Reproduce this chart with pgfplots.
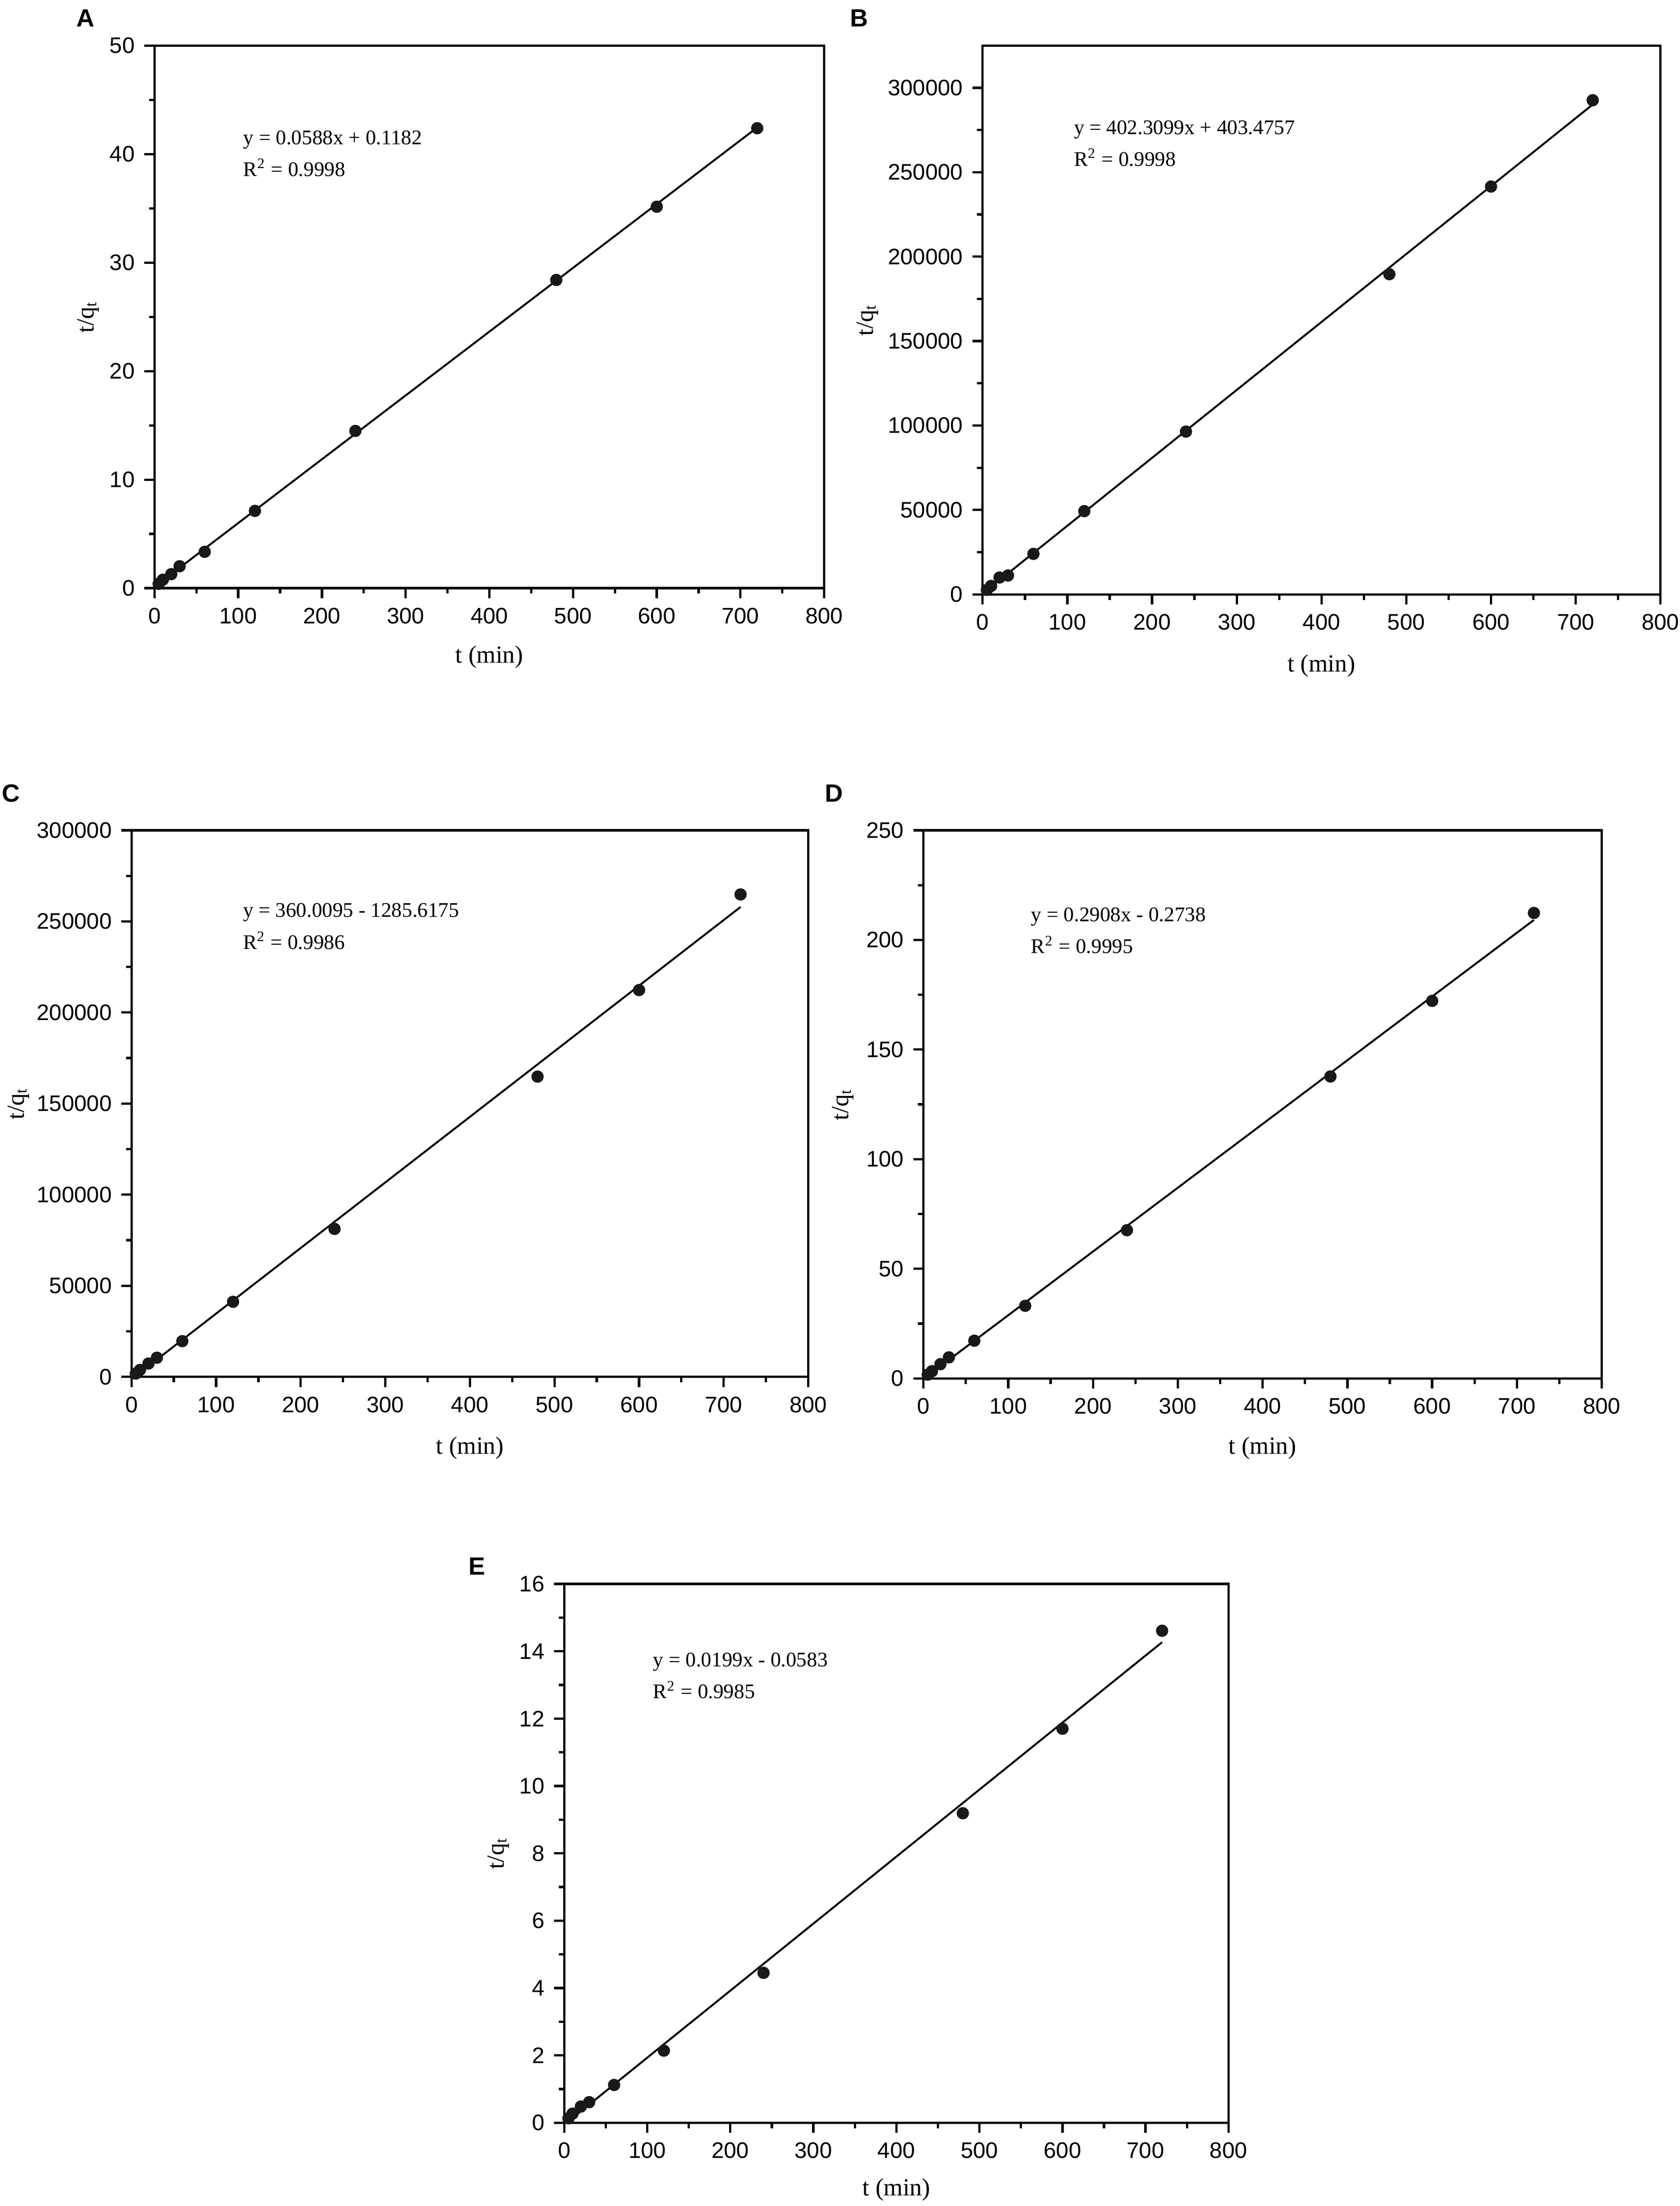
\documentclass[border=0pt]{standalone}
\usepackage{fontspec}
\setmainfont{Liberation Serif}
\newfontfamily\arial{Liberation Sans}
\usepackage{pgfplots}
\pgfplotsset{compat=1.18}

\newcommand\tickfont{\arial\fontsize{8.2}{9.5}\selectfont}
\newcommand\labfont{\fontsize{9}{10.5}\selectfont}
\newcommand\eqfont{\fontsize{7.6}{9}\selectfont}
\newcommand\letfont{\arial\bfseries\fontsize{9.1}{10.5}\selectfont}

\pgfplotsset{
  panel/.style={
    scale only axis, anchor=south west,
    xmin=0, xmax=800, ymin=0,
    xtick={0,100,...,800},
    minor x tick num=1, minor y tick num=1,
    tick align=outside, xtick pos=bottom, ytick pos=left,
    major tick length=0.13cm, minor tick length=0.07cm,
    axis line style={line width=0.85pt},
    every tick/.style={black, line width=0.85pt},
    ticklabel style={font=\tickfont},
    /pgf/number format/assume math mode=true,
    scaled ticks=false,
    yticklabel style={/pgf/number format/fixed, /pgf/number format/1000 sep={}},
    xlabel={t (min)}, ylabel={t/q\textsubscript{t}},
    label style={font=\labfont},
    clip=false,
  },
  pts/.style={only marks, mark=*, mark size=2.05pt, black!90},
  fit/.style={black, line width=0.7pt, mark=none},
}

\begin{document}
\begin{tikzpicture}
\path[use as bounding box] (0,0) rectangle (21.585,28.335);

% panel letters
\node[font=\letfont] at (1.10,28.10) {A};
\node[font=\letfont] at (11.04,28.10) {B};
\node[font=\letfont] at (0.14,18.145) {C};
\node[font=\letfont] at (10.715,18.145) {D};
\node[font=\letfont] at (6.125,8.215) {E};

% A
\begin{axis}[panel, at={(1.985cm,20.78cm)}, width=8.605cm, height=6.97cm,
  ymax=50, ytick={0,10,...,50},
  xlabel style={at={(axis description cs:0.5,-0.127)}, anchor=center},
  ylabel style={at={(axis description cs:-0.099,0.5)}, anchor=center}]
  \addplot[fit] coordinates {(0,0.1182) (720,42.45)};
  \addplot[pts] coordinates {
    (5,0.40) (10,0.78) (20,1.29) (30,2.02) (60,3.35)
    (120,7.12) (240,14.49) (480,28.40) (600,35.15) (720,42.38)
  };
  \node[anchor=west, font=\eqfont, inner sep=0pt] at (rel axis cs:0.132,0.826) {y = 0.0588x + 0.1182};
  \node[anchor=west, font=\eqfont, inner sep=0pt] at (rel axis cs:0.132,0.775) {R\textsuperscript{2} = 0.9998};
\end{axis}

% B
\begin{axis}[panel, at={(12.625cm,20.70cm)}, width=8.71cm, height=7.05cm,
  ymax=325000, ytick={0,50000,...,300000},
  xlabel style={at={(axis description cs:0.5,-0.130)}, anchor=center},
  ylabel style={at={(axis description cs:-0.170,0.5)}, anchor=center}]
  \addplot[fit] coordinates {(0,403) (720,290066)};
  \addplot[pts] coordinates {
    (5,2700) (10,5000) (20,10000) (30,11200) (60,24000)
    (120,49300) (240,96400) (480,189600) (600,241500) (720,292600)
  };
  \node[anchor=west, font=\eqfont, inner sep=0pt] at (rel axis cs:0.134,0.847) {y = 402.3099x + 403.4757};
  \node[anchor=west, font=\eqfont, inner sep=0pt] at (rel axis cs:0.134,0.796) {R\textsuperscript{2} = 0.9998};
\end{axis}

% C
\begin{axis}[panel, at={(1.69cm,10.65cm)}, width=8.695cm, height=7.02cm,
  ymax=300000, ytick={0,50000,...,300000},
  xlabel style={at={(axis description cs:0.5,-0.130)}, anchor=center},
  ylabel style={at={(axis description cs:-0.167,0.5)}, anchor=center}]
  \addplot[fit] coordinates {(4,155) (720,257921)};
  \addplot[pts] coordinates {
    (5,1800) (10,3800) (20,7300) (30,10500) (60,19600)
    (120,41200) (240,81200) (480,164800) (600,212300) (720,264800)
  };
  \node[anchor=west, font=\eqfont, inner sep=0pt] at (rel axis cs:0.164,0.850) {y = 360.0095 - 1285.6175};
  \node[anchor=west, font=\eqfont, inner sep=0pt] at (rel axis cs:0.164,0.798) {R\textsuperscript{2} = 0.9986};
\end{axis}

% D
\begin{axis}[panel, at={(11.865cm,10.63cm)}, width=8.715cm, height=7.04cm,
  ymax=250, ytick={0,50,...,250},
  xlabel style={at={(axis description cs:0.5,-0.127)}, anchor=center},
  ylabel style={at={(axis description cs:-0.119,0.5)}, anchor=center}]
  \addplot[fit] coordinates {(1,0.02) (720,209.1)};
  \addplot[pts] coordinates {
    (5,1.7) (10,3.3) (20,6.5) (30,9.6) (60,17.2)
    (120,33.1) (240,67.6) (480,137.7) (600,172.2) (720,212.3)
  };
  \node[anchor=west, font=\eqfont, inner sep=0pt] at (rel axis cs:0.158,0.842) {y = 0.2908x - 0.2738};
  \node[anchor=west, font=\eqfont, inner sep=0pt] at (rel axis cs:0.158,0.791) {R\textsuperscript{2} = 0.9995};
\end{axis}

% E
\begin{axis}[panel, at={(7.25cm,1.07cm)}, width=8.535cm, height=6.92cm,
  ymax=16, ytick={0,2,...,16},
  xlabel style={at={(axis description cs:0.5,-0.124)}, anchor=center},
  ylabel style={at={(axis description cs:-0.099,0.5)}, anchor=center}]
  \addplot[fit] coordinates {(3,0.0014) (720,14.27)};
  \addplot[pts] coordinates {
    (5,0.13) (10,0.27) (20,0.48) (30,0.61) (60,1.12)
    (120,2.14) (240,4.45) (480,9.19) (600,11.70) (720,14.61)
  };
  \node[anchor=west, font=\eqfont, inner sep=0pt] at (rel axis cs:0.133,0.855) {y = 0.0199x - 0.0583};
  \node[anchor=west, font=\eqfont, inner sep=0pt] at (rel axis cs:0.133,0.803) {R\textsuperscript{2} = 0.9985};
\end{axis}
\end{tikzpicture}
\end{document}
